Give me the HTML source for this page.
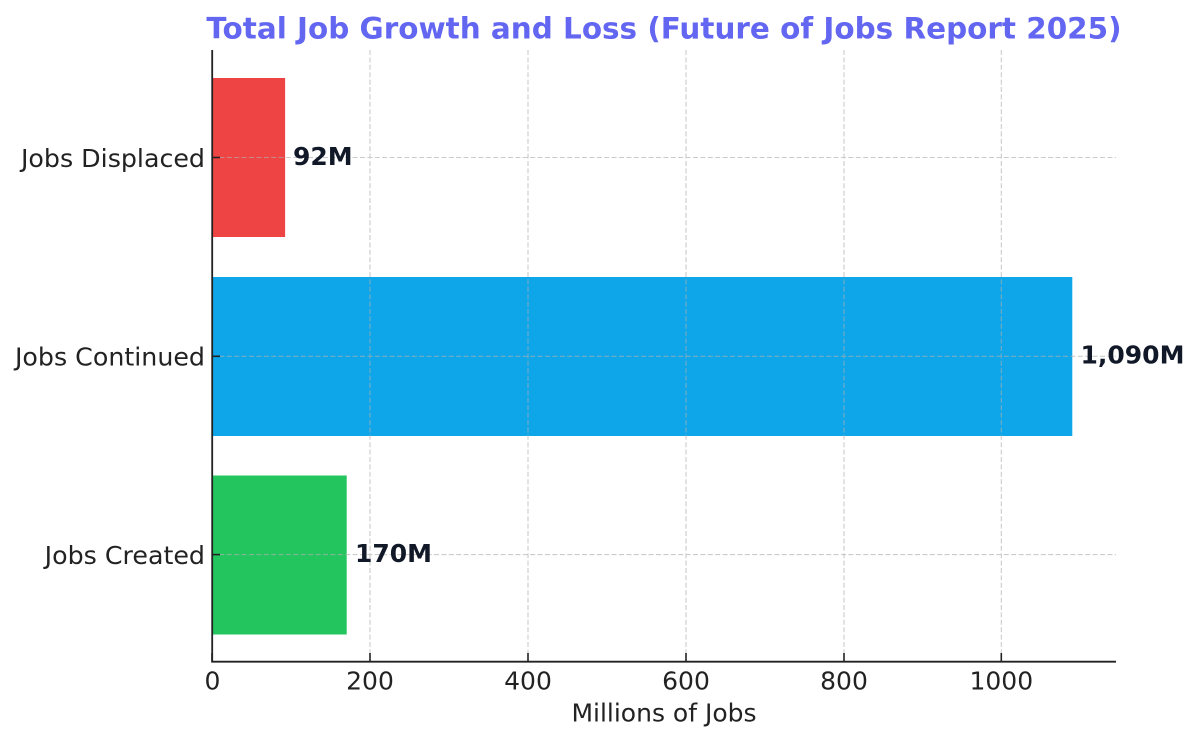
<!DOCTYPE html>
<html>
<head>
<meta charset="utf-8">
<style>
  html, body { margin: 0; padding: 0; background: #ffffff; }
  svg { display: block; }
  text { font-family: "DejaVu Sans", "Liberation Sans", sans-serif; }
</style>
</head>
<body>
<svg width="1200" height="743" viewBox="0 0 1200 743" xmlns="http://www.w3.org/2000/svg">
  <rect x="0" y="0" width="1200" height="743" fill="#ffffff"/>

  <!-- Title -->
  <text x="664" y="38.3" text-anchor="middle" font-size="29.45" font-weight="bold" fill="#6366f1">Total Job Growth and Loss (Future of Jobs Report 2025)</text>

  <!-- Bars -->
  <rect x="212.5" y="78" width="72.6" height="159" fill="#ef4444"/>
  <rect x="212.5" y="277" width="859.8" height="159" fill="#0ea5e9"/>
  <rect x="212.5" y="475.5" width="134.2" height="159" fill="#22c55e"/>

  <!-- Grid (drawn over bars) -->
  <g stroke="#b0b0b0" stroke-width="1.1" stroke-dasharray="5,2.4" opacity="0.65" fill="none">
    <line x1="370" y1="50" x2="370" y2="661"/>
    <line x1="528" y1="50" x2="528" y2="661"/>
    <line x1="686" y1="50" x2="686" y2="661"/>
    <line x1="844" y1="50" x2="844" y2="661"/>
    <line x1="1001.3" y1="50" x2="1001.3" y2="661"/>
    <line x1="212" y1="157.5" x2="1116" y2="157.5"/>
    <line x1="212" y1="356.3" x2="1116" y2="356.3"/>
    <line x1="212" y1="554.6" x2="1116" y2="554.6"/>
  </g>

  <!-- Spines -->
  <line x1="212.2" y1="50" x2="212.2" y2="662.5" stroke="#222" stroke-width="1.8"/>
  <line x1="211.3" y1="661.7" x2="1116" y2="661.7" stroke="#222" stroke-width="1.8"/>

  <!-- Ticks (inward) -->
  <g stroke="#222" stroke-width="1.6">
    <line x1="212" y1="653" x2="212" y2="661"/>
    <line x1="370" y1="653" x2="370" y2="661"/>
    <line x1="528" y1="653" x2="528" y2="661"/>
    <line x1="686" y1="653" x2="686" y2="661"/>
    <line x1="844" y1="653" x2="844" y2="661"/>
    <line x1="1001.3" y1="653" x2="1001.3" y2="661"/>
    <line x1="212" y1="157.5" x2="220" y2="157.5"/>
    <line x1="212" y1="356.3" x2="220" y2="356.3"/>
    <line x1="212" y1="554.6" x2="220" y2="554.6"/>
  </g>

  <!-- X tick labels -->
  <g font-size="25" fill="#222" text-anchor="middle">
    <text x="212.5" y="689.3">0</text>
    <text x="370" y="689.3">200</text>
    <text x="528" y="689.3">400</text>
    <text x="686" y="689.3">600</text>
    <text x="844" y="689.3">800</text>
    <text x="1001.3" y="689.3">1000</text>
  </g>

  <!-- X axis label -->
  <text x="664" y="721.7" text-anchor="middle" font-size="25" fill="#222">Millions of Jobs</text>

  <!-- Y tick labels -->
  <g font-size="25.3" fill="#222" text-anchor="end">
    <text x="205" y="166.8">Jobs Displaced</text>
    <text x="205" y="365.6">Jobs Continued</text>
    <text x="205" y="564">Jobs Created</text>
  </g>

  <!-- Value labels -->
  <g font-size="25" font-weight="bold" fill="#111827">
    <text x="293" y="165">92M</text>
    <text x="1080.5" y="363.5">1,090M</text>
    <text x="355" y="561.8">170M</text>
  </g>
</svg>
</body>
</html>
